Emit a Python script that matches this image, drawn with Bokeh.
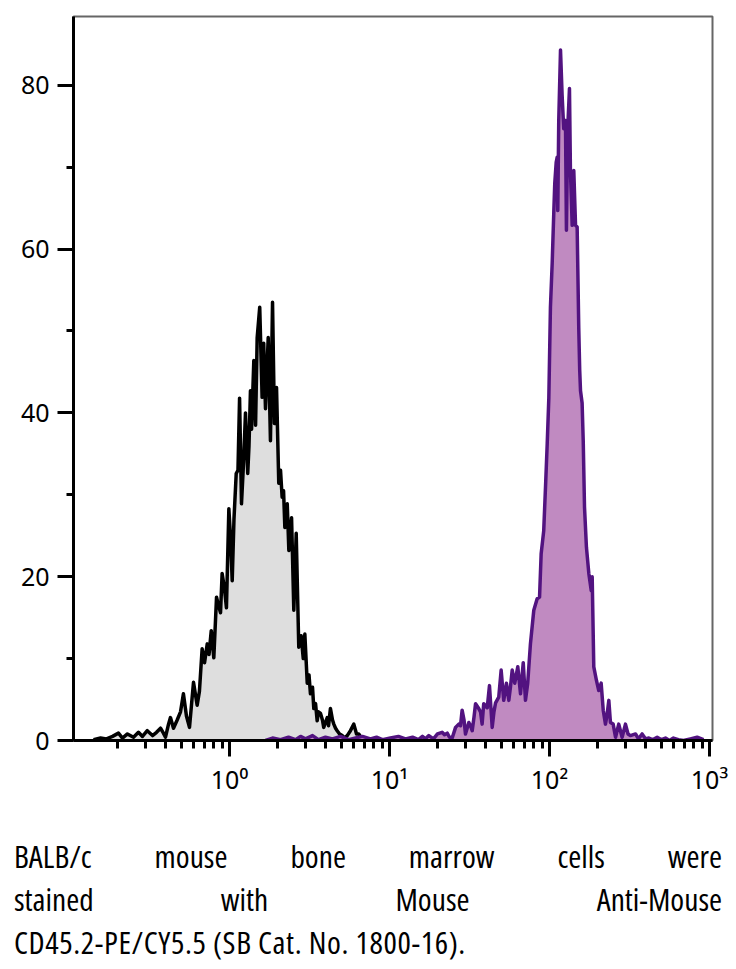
from bokeh.plotting import figure
from bokeh.layouts import column
from bokeh.models import FixedTicker, CustomJSTickFormatter, Div
from bokeh.embed import file_html
from bokeh.resources import INLINE

# ---- data (log10 of fluorescence intensity, event counts) ----
black_log10 = [-0.850, -0.806, -0.769, -0.731, -0.694, -0.669, -0.638, -0.600, -0.569, -0.544,
               -0.514, -0.481, -0.456, -0.431, -0.413, -0.400, -0.381, -0.369, -0.350, -0.327,
               -0.306, -0.288, -0.269, -0.250, -0.225, -0.202, -0.188, -0.171, -0.156, -0.139,
               -0.128, -0.114, -0.098, -0.081, -0.069, -0.056, -0.046, -0.031, -0.019, -0.004,
               0.006, 0.017, 0.028, 0.042, 0.053, 0.063, 0.075, 0.088, 0.100, 0.114,
               0.122, 0.131, 0.138, 0.152, 0.163, 0.173, 0.189, 0.204, 0.214, 0.225,
               0.242, 0.256, 0.269, 0.281, 0.294, 0.308, 0.319, 0.329, 0.338, 0.346,
               0.361, 0.371, 0.388, 0.402, 0.417, 0.433, 0.448, 0.461, 0.471, 0.486,
               0.497, 0.506, 0.519, 0.527, 0.538, 0.548, 0.556, 0.569, 0.581, 0.589,
               0.600, 0.611, 0.619, 0.631, 0.644, 0.652, 0.663, 0.673, 0.688, 0.704,
               0.719, 0.736, 0.756, 0.777, 0.794, 0.808, 0.825, 0.838, 0.856]
black_counts = [0.1, 0.3, 0.2, 0.5, 0.9, 0.3, 0.8, 0.4, 1.0, 0.5,
                1.2, 0.6, 1.0, 1.5, 0.9, 0.4, 2.0, 2.8, 1.5, 2.5,
                3.5, 5.7, 3.0, 1.6, 7.1, 4.3, 6.0, 11.2, 9.5, 11.8,
                10.5, 13.4, 10.1, 17.5, 16.5, 15.6, 20.4, 18.5, 16.2, 28.3,
                25.0, 19.5, 27.0, 32.6, 33.0, 41.8, 28.9, 34.0, 40.0, 32.6,
                36.0, 42.7, 38.0, 46.4, 38.5, 49.2, 52.9, 41.9, 48.5, 40.5,
                49.2, 36.6, 53.5, 38.7, 43.1, 31.4, 33.0, 29.7, 30.5, 26.0,
                28.9, 23.2, 27.2, 15.9, 25.3, 11.4, 12.8, 10.0, 13.0, 7.0,
                8.0, 5.7, 6.5, 3.9, 4.5, 2.4, 3.5, 3.3, 2.5, 1.6,
                2.2, 2.8, 1.8, 3.9, 2.5, 2.0, 1.5, 1.2, 0.8, 0.6,
                0.3, 0.6, 1.2, 2.0, 0.8, 0.8, 0.3, 0.4, 0.1]

purple_log10 = [0.225, 0.269, 0.319, 0.369, 0.413, 0.444, 0.475, 0.519, 0.556, 0.600,
                0.644, 0.694, 0.744, 0.788, 0.831, 0.881, 0.919, 0.956, 1.006, 1.056,
                1.100, 1.144, 1.181, 1.206, 1.225, 1.246, 1.275, 1.300, 1.329, 1.344,
                1.361, 1.375, 1.392, 1.413, 1.433, 1.444, 1.454, 1.466, 1.475, 1.496,
                1.506, 1.517, 1.528, 1.538, 1.558, 1.569, 1.579, 1.589, 1.611, 1.625,
                1.642, 1.653, 1.663, 1.683, 1.698, 1.714, 1.731, 1.746, 1.756, 1.767,
                1.783, 1.802, 1.819, 1.836, 1.850, 1.864, 1.881, 1.902, 1.923, 1.938,
                1.948, 1.964, 1.977, 1.986, 1.996, 2.006, 2.017, 2.027, 2.033, 2.042,
                2.048, 2.052, 2.058, 2.069, 2.079, 2.089, 2.100, 2.106, 2.114, 2.125,
                2.131, 2.142, 2.152, 2.163, 2.173, 2.183, 2.189, 2.194, 2.204, 2.211,
                2.219, 2.231, 2.246, 2.261, 2.267, 2.277, 2.294, 2.308, 2.323, 2.336,
                2.350, 2.359, 2.371, 2.381, 2.398, 2.413, 2.433, 2.454, 2.475, 2.491,
                2.506, 2.538, 2.556, 2.579, 2.600, 2.621, 2.644, 2.673, 2.700, 2.725,
                2.750, 2.775, 2.806, 2.838, 2.881, 2.923, 2.963]
purple_counts = [0.0, 0.3, 0.1, 0.4, 0.1, 0.5, 0.2, 0.6, 0.1, 0.4,
                 0.2, 0.5, 0.1, 0.3, 0.5, 0.2, 0.4, 0.1, 0.3, 0.5,
                 0.2, 0.4, 0.1, 0.5, 0.2, 0.6, 0.2, 0.8, 1.0, 0.7,
                 0.9, 0.4, 0.3, 1.6, 2.0, 1.8, 3.7, 2.5, 0.8, 2.2,
                 1.8, 1.2, 2.8, 4.5, 3.9, 3.5, 2.0, 4.5, 4.0, 6.7,
                 1.6, 3.5, 4.6, 5.3, 8.6, 4.9, 7.0, 4.9, 6.5, 8.6,
                 7.0, 9.0, 5.7, 9.5, 4.9, 7.0, 11.8, 15.9, 17.3, 17.5,
                 22.8, 25.6, 31.8, 36.3, 41.8, 52.9, 58.3, 64.5, 68.0, 70.6,
                 71.2, 64.7, 75.7, 84.3, 78.8, 74.7, 75.7, 62.3, 74.7, 79.6,
                 69.6, 62.9, 69.6, 62.9, 62.7, 50.4, 45.2, 42.7, 41.2, 36.6,
                 28.5, 23.6, 20.4, 18.3, 20.0, 9.0, 7.3, 6.1, 7.0, 3.7,
                 2.0, 3.0, 4.9, 2.2, 2.0, 0.4, 2.0, 0.4, 2.0, 0.8,
                 0.6, 0.8, 0.2, 0.8, 0.2, 0.3, 0.1, 0.4, 0.1, 0.3,
                 0.0, 0.3, 0.1, 0.0, 0.2, 0.4, 0.1]

x_major_ticks = [1, 10, 100, 1000]
x_minor_ticks = [0.2, 0.3, 0.4, 0.5, 0.6, 0.7, 0.8, 0.9,
                 2, 3, 4, 5, 6, 7, 8, 9,
                 20, 30, 40, 50, 60, 70, 80, 90,
                 200, 300, 400, 500, 600, 700, 800, 900]
y_major_ticks = [0, 20, 40, 60, 80]
y_minor_ticks = [10, 30, 50, 70]

caption_lines = ["BALB/c mouse bone marrow cells were",
                 "stained with Mouse Anti-Mouse",
                 "CD45.2-PE/CY5.5 (SB Cat. No. 1800-16)."]

black_x = [10 ** e for e in black_log10]
purple_x = [10 ** e for e in purple_log10]

p = figure(width=736, height=800, x_axis_type="log",
           x_range=(10 ** -0.975, 10 ** 3.019), y_range=(0, 88.4),
           output_backend="svg", toolbar_location=None,
           min_border_left=73, min_border_right=24, min_border_top=16, min_border_bottom=60)
p.xgrid.visible = False
p.ygrid.visible = False
p.outline_line_color = "#666666"
p.outline_line_width = 2
p.background_fill_color = "white"
p.border_fill_color = "white"

p.varea(x=black_x, y1=0, y2=black_counts, fill_color="#dedede")
p.line(black_x, black_counts, line_color="black", line_width=3.5, line_join="round")
p.varea(x=purple_x, y1=0, y2=purple_counts, fill_color="#c08ac1")
p.line(purple_x, purple_counts, line_color="#521380", line_width=3.5, line_join="round")

for ax in (p.xaxis[0], p.yaxis[0]):
    ax.axis_line_width = 3
    ax.axis_line_color = "black"
    ax.major_tick_line_width = 3
    ax.minor_tick_line_width = 3
    ax.major_tick_in = 0
    ax.minor_tick_in = 0
    ax.major_label_text_font = "Noto Sans"
    ax.major_label_text_font_size = "25px"
    ax.major_label_text_color = "black"

p.xaxis[0].ticker = FixedTicker(ticks=x_major_ticks, minor_ticks=x_minor_ticks)
p.xaxis[0].major_tick_out = 16
p.xaxis[0].minor_tick_out = 8
p.xaxis[0].major_label_standoff = 5
p.xaxis[0].formatter = CustomJSTickFormatter(code="""
const sup = {'0':'\u2070','1':'\u00b9','2':'\u00b2','3':'\u00b3','-':'\u207b'};
const e = String(Math.round(Math.log10(tick)));
return '10' + e.split('').map(c => sup[c]).join('');
""")

p.yaxis[0].ticker = FixedTicker(ticks=y_major_ticks, minor_ticks=y_minor_ticks)
p.yaxis[0].major_tick_out = 16
p.yaxis[0].minor_tick_out = 7
p.yaxis[0].major_label_standoff = 8

line_style = "font-family:'Open Sans';font-stretch:80%;font-size:31.5px;line-height:43px;color:black;"
html = "<div style=\"width:708px;margin-left:14px;padding-top:34px;\">"
html += "<div style=\"%stext-align:justify;text-align-last:justify;\">%s</div>" % (line_style, caption_lines[0])
html += "<div style=\"%stext-align:justify;text-align-last:justify;\">%s</div>" % (line_style, caption_lines[1])
html += "<div style=\"%stext-align:left;white-space:nowrap;letter-spacing:0.6px;\">%s</div>" % (line_style, caption_lines[2])
html += "</div>"
caption = Div(text=html, width=736, height=169, margin=0)

layout = column(p, caption, spacing=0)
open("out.html", "w").write(file_html(layout, INLINE))
